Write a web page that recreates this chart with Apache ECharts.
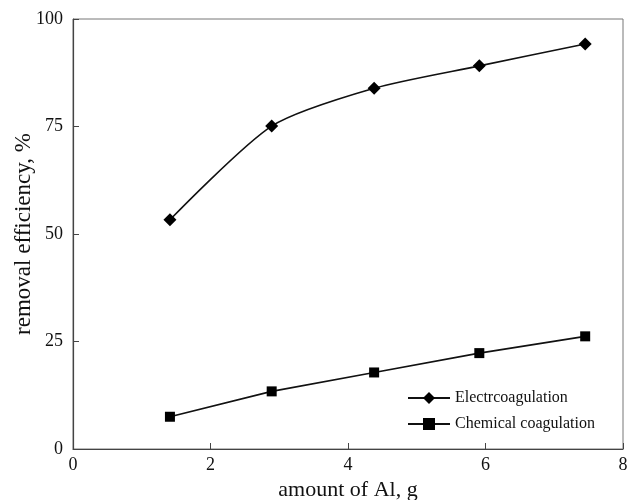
<!DOCTYPE html>
<html>
<head>
<meta charset="utf-8">
<script src="https://cdn.jsdelivr.net/npm/echarts@6/dist/echarts.min.js"></script>
<style>
html,body{margin:0;padding:0;background:#fff;}
#chart{width:628px;height:500px;}
</style>
</head>
<body>
<div id="chart"></div>
<script>
/* data */
const alAmount=[1.41,2.89,4.38,5.91,7.45];
const electroEff=[53.3,75.1,83.9,89.1,94.2];
const chemicalEff=[7.5,13.4,17.8,22.3,26.2];
const seriesNames=["Electrcoagulation","Chemical coagulation"];

const font="'Liberation Serif', 'Times New Roman', serif";

function pairs(xs,ys){
return xs.map((x,i)=>[x,ys[i]]);
}

let chart=echarts.init(document.getElementById("chart"));

chart.setOption({
animation:false,
backgroundColor:"#fff",
grid:{
left:73,right:5,top:19,bottom:51,
outerBoundsMode:"none",
containLabel:false,
show:true,borderColor:"#777",borderWidth:1
},
legend:{
orient:"vertical",
left:402,top:385,
itemWidth:42,itemHeight:15,itemGap:10,
textStyle:{fontFamily:font,fontSize:16,color:"#111"},
data:seriesNames
},
xAxis:{
type:"value",min:0,max:8,interval:2,
name:"amount of Al, g",
nameLocation:"middle",nameGap:30,
nameMoveOverlap:false,
nameTextStyle:{fontFamily:font,fontSize:22,color:"#111"},
axisLine:{lineStyle:{color:"#444",width:1.2}},
axisTick:{inside:true,length:6,lineStyle:{color:"#444"}},
axisLabel:{fontFamily:font,fontSize:18,color:"#111",margin:7},
splitLine:{show:false}
},
yAxis:{
type:"value",min:0,max:100,interval:25,
name:"removal efficiency, %",
nameLocation:"middle",nameGap:38,
nameMoveOverlap:false,
nameTextStyle:{fontFamily:font,fontSize:23,color:"#111"},
axisLine:{show:true,lineStyle:{color:"#444",width:1.2}},
axisTick:{show:true,inside:true,length:6,lineStyle:{color:"#444"}},
axisLabel:{fontFamily:font,fontSize:18,color:"#111",margin:10},
splitLine:{show:false}
},
series:[
{
name:seriesNames[0],
type:"line",
data:pairs(alAmount,electroEff),
smooth:0.25,
symbol:"diamond",symbolSize:13,
lineStyle:{color:"#111",width:1.6},
itemStyle:{color:"#000"}
},
{
name:seriesNames[1],
type:"line",
data:pairs(alAmount,chemicalEff),
symbol:"rect",symbolSize:10,
lineStyle:{color:"#111",width:1.6},
itemStyle:{color:"#000"}
}
]
});
</script>
</body>
</html>
